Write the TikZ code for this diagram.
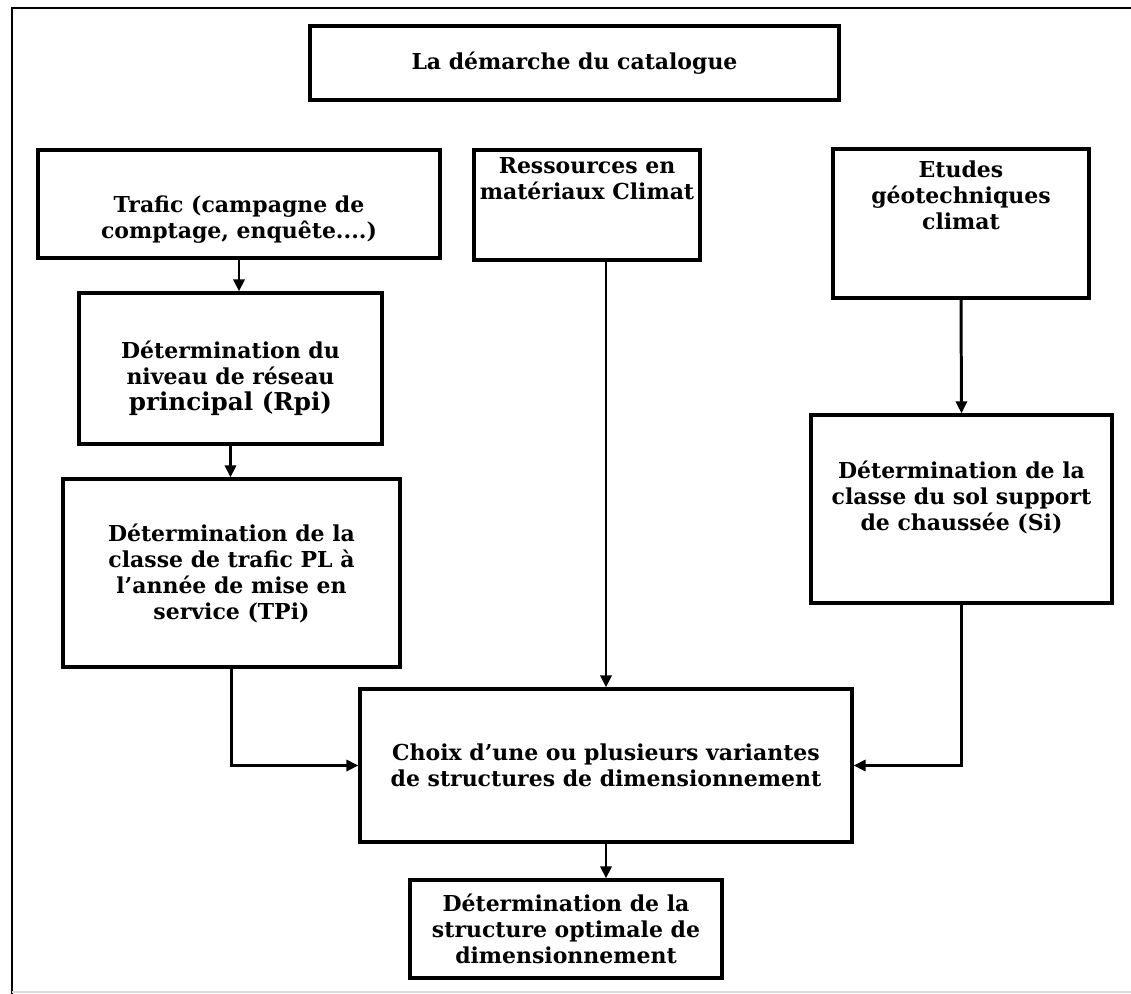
\documentclass[tikz,border=0pt]{standalone}
\usepackage{fontspec}
\setmainfont{DejaVu Serif}
\usetikzlibrary{arrows.meta,positioning}
\tikzset{
  >={Triangle[length=2.4mm,width=2.2mm]},
  box/.style={draw=black,line width=1.8pt,align=center,
    font=\bfseries\fontsize{12.5}{14.8}\selectfont},
  txt/.style={align=center,font=\bfseries\fontsize{12.5}{14.8}\selectfont},
  flow/.style={->,line width=1.7pt},
}
\begin{document}
\begin{tikzpicture}
  \useasboundingbox (0,0) rectangle (22.62,-19.88);
  % frame
  \draw[line width=1.6pt] (22.7,-0.16) -- (0.24,-0.16) -- (0.24,-19.88);
  \draw[black!15,line width=0.6pt] (0.24,-19.84) -- (22.62,-19.84);

  % boxes
  \node[box,minimum width=10.58cm,minimum height=1.48cm] (titre) at (11.49,-1.26) {La démarche du catalogue};
  \node[box,minimum width=8.04cm,minimum height=2.16cm,
    label={[txt,anchor=north,yshift=-0.82cm]north:{Trafic (campagne de\\comptage, enquête....)}}] (trafic) at (4.78,-4.08) {};
  \node[box,minimum width=4.52cm,minimum height=2.20cm,
    label={[txt,anchor=north,yshift=-0.05cm]north:{Ressources en\\matériaux Climat}}] (ress) at (11.74,-4.10) {};
  \node[box,minimum width=5.12cm,minimum height=2.98cm,
    label={[txt,anchor=north,yshift=-0.15cm]north:{Etudes\\géotechniques\\climat}}] (etudes) at (19.22,-4.47) {};
  \node[box,minimum width=6.06cm,minimum height=3.02cm,
    label={[txt,yshift=-0.19cm]center:{Détermination du\\niveau de réseau\\{\fontsize{14}{15.5}\selectfont principal (Rpi)}}}] (rpi) at (4.61,-7.37) {};
  \node[box,minimum width=6.74cm,minimum height=3.76cm] (tpi) at (4.63,-11.46)
    {Détermination de la\\classe de trafic PL à\\l’année de mise en\\service (TPi)};
  \node[box,minimum width=6.02cm,minimum height=3.76cm,
    label={[txt,yshift=0.24cm]center:{Détermination de la\\classe du sol support\\de chaussée (Si)}}] (sol) at (19.23,-10.18) {};
  \node[box,minimum width=9.84cm,minimum height=3.06cm] (choix) at (12.12,-15.31)
    {Choix d’une ou plusieurs variantes\\de structures de dimensionnement};
  \node[box,minimum width=6.24cm,minimum height=1.96cm] (optimal) at (11.32,-18.58)
    {Détermination de la\\structure optimale de\\dimensionnement};

  % arrows
  \draw[flow] (trafic.south) -- (trafic.south |- rpi.north);
  \draw[flow] (rpi.south) -- (rpi.south |- tpi.north);
  \draw[flow] (tpi.south) |- (choix.west);
  \draw[flow] (choix.north |- ress.south) -- (choix.north);
  \draw[flow] (etudes.south) -- (sol.north);
  \draw[flow] (sol.south) |- (choix.east);
  \draw[flow] (choix.south) -- (choix.south |- optimal.north);
\end{tikzpicture}
\end{document}
